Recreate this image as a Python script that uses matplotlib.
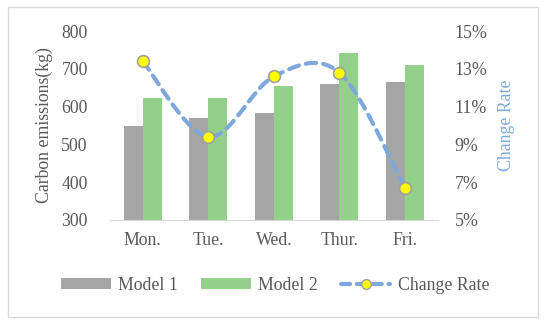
import matplotlib.pyplot as plt
import numpy as np
from matplotlib.patches import Rectangle
from matplotlib.ticker import FuncFormatter

days = ["Mon.", "Tue.", "Wed.", "Thur.", "Fri."]
model1 = [550, 570, 582, 659, 666]
model2 = [623, 623, 654, 743, 710]
change_rate = [13.4, 9.4, 12.6, 12.8, 6.7]

gray = "#a5a5a5"
green = "#93d08a"
blue = "#7ea8dc"
txt = "#595959"

plt.rcParams['font.family'] = ['Liberation Serif', 'DejaVu Serif']
plt.rcParams['font.size'] = 12.8

fig = plt.figure(figsize=(5.5, 3.24), dpi=100)
fig.patches.append(Rectangle((0.015, 0.022), 0.963, 0.955, transform=fig.transFigure,
                             fill=False, edgecolor="#d9d9d9", lw=1))

ax = fig.add_axes([0.2, 0.321, 0.596, 0.583])
x = np.arange(len(days))
w = 0.29
ax.bar(x - w / 2, model1, w, color=gray, label="Model 1", zorder=2)
ax.bar(x + w / 2, model2, w, color=green, label="Model 2", zorder=2)
ax.set_ylim(300, 800)
ax.set_xlim(-0.5, len(days) - 0.5)
ax.set_xticks(x)
ax.set_xticklabels(days)
ax.set_yticks(range(300, 801, 100))
ax.set_ylabel("Carbon emissions(kg)", color=txt, labelpad=6)
for s in ["top", "right", "left"]:
    ax.spines[s].set_visible(False)
ax.spines["bottom"].set_color("#d9d9d9")
ax.tick_params(length=0, colors=txt)
ax.tick_params(axis="x", pad=9)
ax.tick_params(axis="y", pad=16)

ax2 = ax.twinx()
# smoothed line like the spreadsheet "smooth line" option (Catmull-Rom style bezier)
px = x.astype(float)
py = np.array(change_rate, dtype=float)
cx, cy = [], []
t = np.linspace(0, 1, 30)
for i in range(len(px) - 1):
    p0 = (px[max(i - 1, 0)], py[max(i - 1, 0)])
    p1 = (px[i], py[i])
    p2 = (px[i + 1], py[i + 1])
    p3 = (px[min(i + 2, len(px) - 1)], py[min(i + 2, len(px) - 1)])
    c1 = (p1[0] + (p2[0] - p0[0]) / 6, p1[1] + (p2[1] - p0[1]) / 6)
    c2 = (p2[0] - (p3[0] - p1[0]) / 6, p2[1] - (p3[1] - p1[1]) / 6)
    bx = (1 - t) ** 3 * p1[0] + 3 * (1 - t) ** 2 * t * c1[0] + 3 * (1 - t) * t ** 2 * c2[0] + t ** 3 * p2[0]
    by = (1 - t) ** 3 * p1[1] + 3 * (1 - t) ** 2 * t * c1[1] + 3 * (1 - t) * t ** 2 * c2[1] + t ** 3 * p2[1]
    cx.extend(bx)
    cy.extend(by)
ax2.plot(cx, cy, color=blue, lw=3, ls=(0, (2.5, 1.7)), dash_capstyle="round", zorder=3)
ax2.plot(px, py, ls="none", marker="o", ms=8.5, mfc="#ffff00", mec="#a0a0a0", mew=1.2, zorder=4)
ax2.set_ylim(5, 15)
ax2.set_yticks(range(5, 16, 2))
ax2.yaxis.set_major_formatter(FuncFormatter(lambda v, p: f"{v:.0f}%"))
ax2.set_ylabel("Change Rate", color=blue, labelpad=8)
for s in ["top", "right", "left", "bottom"]:
    ax2.spines[s].set_visible(False)
ax2.tick_params(length=0, colors=txt, pad=12)

h1, l1 = ax.get_legend_handles_labels()
lh, = ax2.plot([], [], color=blue, lw=3, ls=(0, (2.2, 1.6)), marker="o", ms=7,
               mfc="#ffff00", mec="#a0a0a0", dash_capstyle="round")
leg = fig.legend(h1 + [lh], l1 + ["Change Rate"], loc="center", ncol=3,
                 bbox_to_anchor=(0.5, 0.12), frameon=False, handlelength=2.8,
                 handleheight=0.55, columnspacing=1.3, handletextpad=0.4)
for tx in leg.get_texts():
    tx.set_color(txt)

fig.savefig("out.png", dpi=100)
